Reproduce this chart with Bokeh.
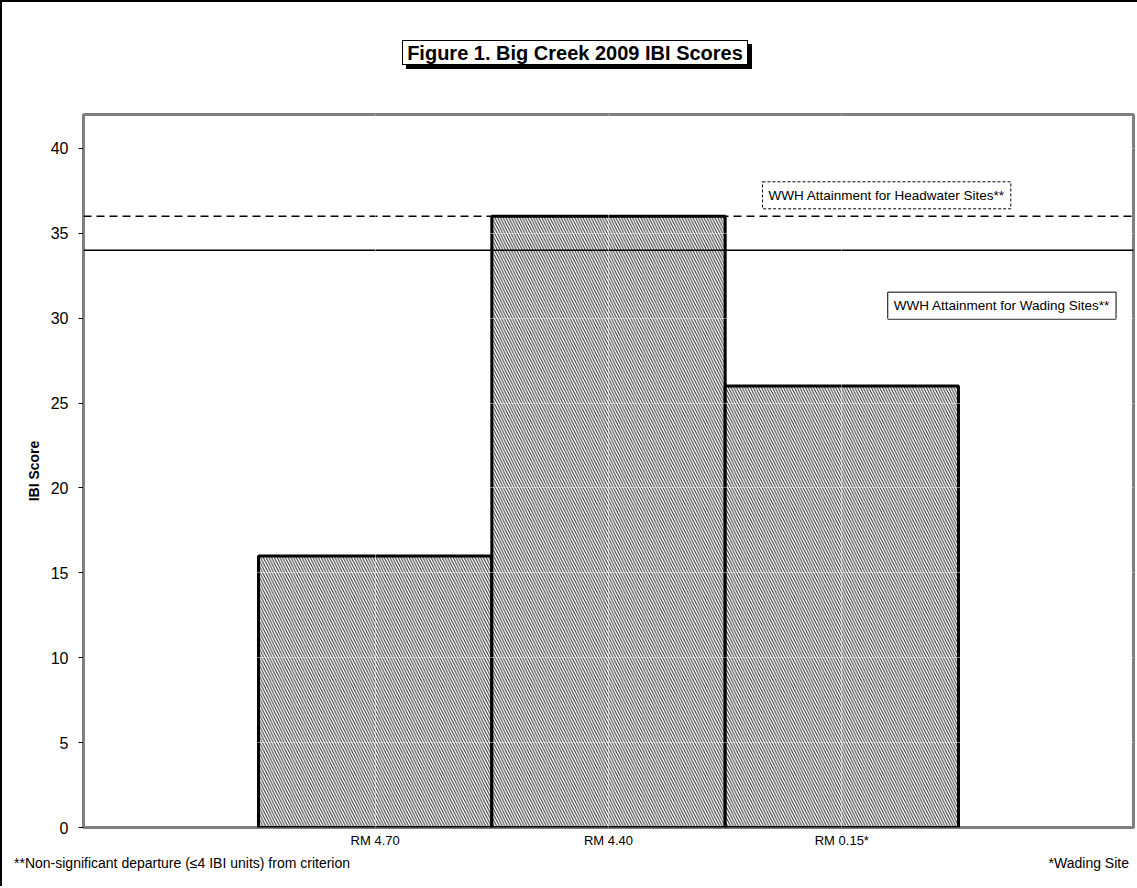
from bokeh.plotting import figure
from bokeh.models import Range1d, FixedTicker, Span, Label, Div
from bokeh.layouts import column
from bokeh.embed import file_html
from bokeh.resources import INLINE

# ---- data ----
categories = ["RM 4.70", "RM 4.40", "RM 0.15*"]
ibi_scores = [16, 36, 26]
headwater_criterion = 36
wading_criterion = 34
y_ticks = [0, 5, 10, 15, 20, 25, 30, 35, 40]

title_text = "Figure 1. Big Creek 2009 IBI Scores"
headwater_text = "WWH Attainment for Headwater Sites**"
wading_text = "WWH Attainment for Wading Sites**"
foot_left = "**Non-significant departure (\u22644 IBI units) from criterion"
foot_right = "*Wading Site"

FONT = "Liberation Sans"
xs = list(range(1, len(categories) + 1))

W = 1135
title_div = Div(
    text=(f'<div style="width:346px;height:25px;line-height:25px;margin-left:400px;margin-top:38px;'
          f'border:1px solid black;box-shadow:4px 4px 0 black;background:white;text-align:center;'
          f"font-family:'{FONT}';font-weight:bold;font-size:20px;color:black;white-space:nowrap;\">"
          f'{title_text}</div>'),
    width=W, height=70, styles={"background": "white", "margin": "0", "padding": "0"})

p = figure(width=W, height=784, output_backend="svg", toolbar_location=None,
           x_range=Range1d(-0.25, 4.25), y_range=Range1d(0, 42),
           min_border_left=81, min_border_top=42, min_border_bottom=29, min_border_right=4)
p.background_fill_color = "white"
p.border_fill_color = "white"
p.outline_line_color = "#808080"
p.outline_line_width = 3

p.vbar(x=xs, top=ibi_scores, width=1.0, bottom=0,
       fill_color="white", line_color="black", line_width=3,
       hatch_pattern="left_diagonal_line", hatch_color="#2a2a2a",
       hatch_scale=5.5, hatch_weight=1)

p.ygrid.ticker = FixedTicker(ticks=y_ticks)
p.ygrid.grid_line_color = "white"
p.ygrid.grid_line_alpha = 0.45
p.ygrid.level = "overlay"
p.xgrid.ticker = FixedTicker(ticks=xs)
p.xgrid.grid_line_color = "white"
p.xgrid.grid_line_alpha = 0.45
p.xgrid.level = "overlay"

p.add_layout(Span(location=headwater_criterion, dimension="width",
                  line_color="black", line_width=1.5, line_dash="8 5"))
p.add_layout(Span(location=wading_criterion, dimension="width",
                  line_color="black", line_width=1.5))

p.yaxis.ticker = FixedTicker(ticks=y_ticks)
p.yaxis.axis_line_color = None
p.yaxis.major_tick_line_color = "black"
p.yaxis.major_tick_out = 5
p.yaxis.major_tick_in = 0
p.yaxis.minor_tick_line_color = None
p.yaxis.major_label_text_font = FONT
p.yaxis.major_label_text_font_size = "16px"
p.yaxis.major_label_text_color = "black"
p.yaxis.major_label_standoff = 10
p.yaxis.axis_label = "IBI Score"
p.yaxis.axis_label_text_font = FONT
p.yaxis.axis_label_text_font_style = "bold"
p.yaxis.axis_label_text_font_size = "14px"
p.yaxis.axis_label_text_color = "black"
p.yaxis.axis_label_standoff = 6

p.xaxis.ticker = FixedTicker(ticks=xs)
p.xaxis.major_label_overrides = {x: c for x, c in zip(xs, categories)}
p.xaxis.axis_line_color = None
p.xaxis.major_tick_line_color = None
p.xaxis.major_tick_out = 0
p.xaxis.major_tick_in = 0
p.xaxis.minor_tick_line_color = None
p.xaxis.minor_tick_out = 0
p.xaxis.major_label_text_font = FONT
p.xaxis.major_label_text_font_size = "13px"
p.xaxis.major_label_text_color = "black"
p.xaxis.major_label_standoff = 5

p.add_layout(Label(x=3.192, y=37.24, text=headwater_text,
                   text_align="center", text_baseline="middle",
                   text_font=FONT, text_font_size="13.5px", text_color="black",
                   background_fill_color="white", border_line_color="black",
                   border_line_dash="3 2", border_line_width=1, padding=6))
p.add_layout(Label(x=3.686, y=30.74, text=wading_text,
                   text_align="center", text_baseline="middle",
                   text_font=FONT, text_font_size="13.5px", text_color="black",
                   background_fill_color="white", border_line_color="black",
                   border_line_width=1, padding=6))

foot_div = Div(
    text=(f'<div style="display:flex;justify-content:space-between;width:{W - 20}px;'
          f"margin-left:12px;margin-top:-2px;font-family:'{FONT}';font-size:14px;line-height:16px;color:black;\">"
          f'<span>{foot_left}</span><span>{foot_right}</span></div>'),
    width=W, height=30, styles={"background": "white", "margin": "0", "padding": "0"})

layout = column(title_div, p, foot_div, spacing=0,
                styles={"border-left": "2px solid black", "border-top": "2px solid black",
                        "background": "white"})

open("out.html", "w").write(file_html(layout, INLINE))
